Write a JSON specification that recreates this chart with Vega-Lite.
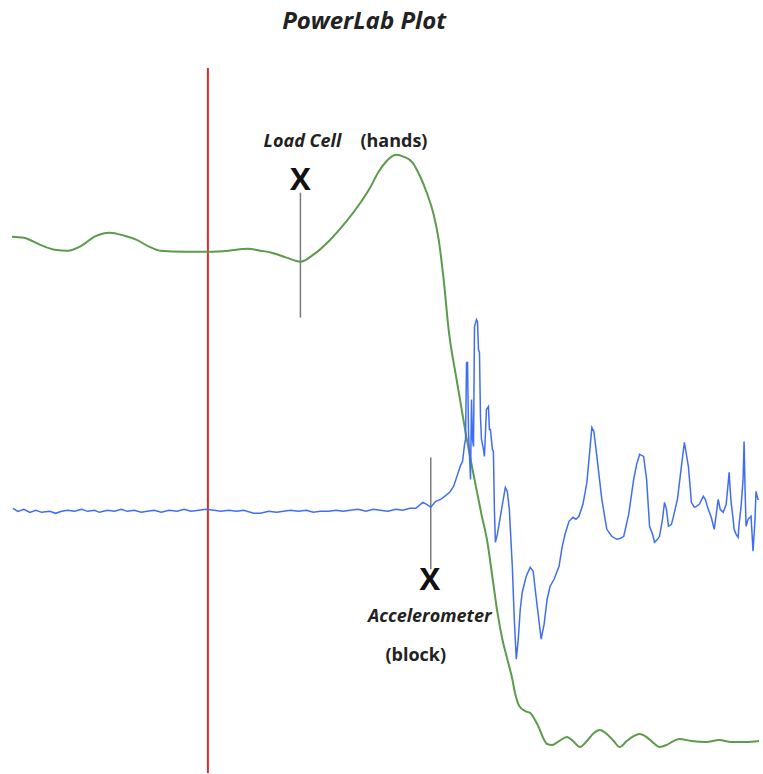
{
  "$schema": "https://vega.github.io/schema/vega-lite/v6.json",
  "width": 763,
  "height": 774,
  "padding": 0,
  "autosize": {"type": "fit", "contains": "padding"},
  "background": "white",
  "config": {"view": {"stroke": null}},
  "datasets": {
    "load": [
      {"t":12,"v":237},{"t":24,"v":238},{"t":40,"v":245},{"t":55,"v":250},{"t":68,"v":251},{"t":82,"v":246},{"t":95,"v":237},{"t":110,"v":233},{"t":125,"v":236},{"t":137,"v":240},{"t":150,"v":247},{"t":161,"v":251},{"t":185,"v":252},{"t":210,"v":252},{"t":230,"v":251},{"t":249,"v":249},{"t":262,"v":251},{"t":273,"v":253},{"t":288,"v":258},{"t":302,"v":262},{"t":315,"v":255},{"t":332,"v":240},{"t":348,"v":222},{"t":363,"v":202},{"t":372,"v":188},{"t":380,"v":173},{"t":388,"v":162},{"t":398,"v":155},{"t":406,"v":157},{"t":415,"v":163},{"t":422,"v":176},{"t":429,"v":193},{"t":436,"v":215},{"t":441,"v":240},{"t":446,"v":280},{"t":451,"v":330},{"t":459,"v":380},{"t":468,"v":433},{"t":477,"v":480},{"t":484,"v":515},{"t":490,"v":543},{"t":495,"v":578},{"t":500,"v":613},{"t":505,"v":640},{"t":510,"v":660},{"t":515,"v":680},{"t":518,"v":695},{"t":522,"v":707},{"t":528,"v":712},{"t":533,"v":714},{"t":540,"v":725},{"t":550,"v":745},{"t":555,"v":746},{"t":562,"v":742},{"t":570,"v":738},{"t":576,"v":742},{"t":583,"v":748},{"t":590,"v":742},{"t":597,"v":734},{"t":603,"v":731},{"t":610,"v":735},{"t":617,"v":742},{"t":623,"v":748},{"t":630,"v":742},{"t":637,"v":737},{"t":643,"v":735},{"t":650,"v":738},{"t":657,"v":744},{"t":663,"v":748},{"t":670,"v":746},{"t":677,"v":742},{"t":683,"v":740},{"t":695,"v":742},{"t":710,"v":743},{"t":723,"v":741},{"t":735,"v":743},{"t":750,"v":743},{"t":763,"v":742}
    ],
    "accel": [
      {"t":13,"v":509},{"t":18,"v":512},{"t":24,"v":510},{"t":30,"v":513},{"t":36,"v":511},{"t":42,"v":513},{"t":50,"v":512},{"t":56,"v":514},{"t":62,"v":512},{"t":68,"v":511},{"t":75,"v":512},{"t":82,"v":510},{"t":88,"v":512},{"t":95,"v":511},{"t":100,"v":513},{"t":108,"v":511},{"t":115,"v":512},{"t":122,"v":510},{"t":128,"v":512},{"t":135,"v":511},{"t":142,"v":513},{"t":148,"v":512},{"t":155,"v":511},{"t":162,"v":513},{"t":170,"v":511},{"t":178,"v":512},{"t":185,"v":510},{"t":192,"v":512},{"t":200,"v":511},{"t":207,"v":510},{"t":215,"v":511},{"t":222,"v":512},{"t":230,"v":511},{"t":238,"v":512},{"t":245,"v":511},{"t":255,"v":514},{"t":262,"v":514},{"t":270,"v":512},{"t":278,"v":513},{"t":285,"v":512},{"t":292,"v":511},{"t":300,"v":512},{"t":308,"v":511},{"t":315,"v":513},{"t":322,"v":512},{"t":330,"v":512},{"t":338,"v":511},{"t":345,"v":512},{"t":352,"v":511},{"t":360,"v":510},{"t":368,"v":512},{"t":375,"v":510},{"t":382,"v":511},{"t":390,"v":512},{"t":398,"v":510},{"t":405,"v":511},{"t":412,"v":509},{"t":418,"v":509},{"t":425,"v":503},{"t":429,"v":505},{"t":433,"v":508},{"t":438,"v":502},{"t":443,"v":500},{"t":447,"v":497},{"t":452,"v":493},{"t":456,"v":487},{"t":460,"v":475},{"t":463,"v":466},{"t":465,"v":462},{"t":467,"v":445},{"t":468,"v":440},{"t":469,"v":363},{"t":470,"v":363},{"t":471,"v":433},{"t":473,"v":480},{"t":474,"v":400},{"t":475,"v":440},{"t":476,"v":447},{"t":477,"v":327},{"t":479,"v":320},{"t":480,"v":322},{"t":481,"v":350},{"t":482,"v":353},{"t":483,"v":417},{"t":484,"v":440},{"t":486,"v":450},{"t":487,"v":457},{"t":489,"v":410},{"t":491,"v":407},{"t":492,"v":430},{"t":493,"v":430},{"t":495,"v":450},{"t":496,"v":452},{"t":497,"v":510},{"t":498,"v":543},{"t":500,"v":535},{"t":503,"v":517},{"t":508,"v":488},{"t":510,"v":492},{"t":512,"v":510},{"t":515,"v":567},{"t":517,"v":620},{"t":519,"v":660},{"t":521,"v":640},{"t":523,"v":610},{"t":525,"v":593},{"t":529,"v":577},{"t":533,"v":568},{"t":536,"v":572},{"t":538,"v":590},{"t":541,"v":615},{"t":544,"v":640},{"t":547,"v":625},{"t":550,"v":600},{"t":553,"v":587},{"t":557,"v":580},{"t":562,"v":567},{"t":565,"v":548},{"t":568,"v":535},{"t":572,"v":522},{"t":576,"v":518},{"t":579,"v":520},{"t":582,"v":517},{"t":586,"v":505},{"t":590,"v":483},{"t":593,"v":450},{"t":595,"v":428},{"t":597,"v":432},{"t":600,"v":457},{"t":605,"v":500},{"t":610,"v":530},{"t":615,"v":537},{"t":620,"v":540},{"t":624,"v":539},{"t":627,"v":537},{"t":632,"v":515},{"t":637,"v":480},{"t":640,"v":465},{"t":643,"v":455},{"t":647,"v":457},{"t":650,"v":480},{"t":653,"v":527},{"t":656,"v":535},{"t":658,"v":543},{"t":661,"v":540},{"t":663,"v":537},{"t":666,"v":520},{"t":668,"v":503},{"t":670,"v":510},{"t":672,"v":527},{"t":675,"v":525},{"t":677,"v":517},{"t":681,"v":500},{"t":685,"v":467},{"t":688,"v":443},{"t":690,"v":455},{"t":692,"v":467},{"t":694,"v":490},{"t":695,"v":503},{"t":698,"v":508},{"t":700,"v":507},{"t":703,"v":505},{"t":707,"v":497},{"t":709,"v":500},{"t":712,"v":510},{"t":715,"v":518},{"t":718,"v":530},{"t":720,"v":515},{"t":722,"v":500},{"t":724,"v":510},{"t":727,"v":513},{"t":730,"v":505},{"t":733,"v":473},{"t":734,"v":490},{"t":735,"v":503},{"t":737,"v":520},{"t":738,"v":530},{"t":740,"v":535},{"t":742,"v":538},{"t":743,"v":525},{"t":745,"v":507},{"t":747,"v":480},{"t":748,"v":442},{"t":749,"v":490},{"t":750,"v":527},{"t":752,"v":520},{"t":755,"v":517},{"t":757,"v":552},{"t":759,"v":520},{"t":760,"v":492},{"t":762,"v":500},{"t":763,"v":500}
    ],
    "markers": [
      {"t":302,"v1":193,"v2":318},
      {"t":433,"v1":458,"v2":570}
    ],
    "trigger": [
      {"t":209,"v1":68,"v2":774}
    ]
  },
  "layer": [
    {
      "data": {"name": "trigger"},
      "mark": {"type": "rule", "color": "#e02a2a", "strokeWidth": 2},
      "encoding": {
        "x": {"field": "t", "type": "quantitative", "scale": {"domain": [0, 763], "nice": false, "zero": false}, "axis": null},
        "y": {"field": "v1", "type": "quantitative", "scale": {"domain": [0, 774], "nice": false, "zero": false, "reverse": true}, "axis": null},
        "y2": {"field": "v2"}
      }
    },
    {
      "data": {"name": "markers"},
      "mark": {"type": "rule", "color": "#7a7a7a", "strokeWidth": 1.5},
      "encoding": {
        "x": {"field": "t", "type": "quantitative"},
        "y": {"field": "v1", "type": "quantitative"},
        "y2": {"field": "v2"}
      }
    },
    {
      "data": {"name": "load"},
      "mark": {"type": "line", "color": "#5c9a4c", "strokeWidth": 2, "interpolate": "monotone"},
      "encoding": {
        "x": {"field": "t", "type": "quantitative"},
        "y": {"field": "v", "type": "quantitative"}
      }
    },
    {
      "data": {"name": "accel"},
      "mark": {"type": "line", "color": "#3f6ef2", "strokeWidth": 1.5},
      "encoding": {
        "x": {"field": "t", "type": "quantitative"},
        "y": {"field": "v", "type": "quantitative"}
      }
    },
    {
      "data": {"values": [{"label": "PowerLab Plot", "t": 366, "v": 22}]},
      "mark": {"type": "text", "font": "Open Sans", "fontSize": 24, "fontWeight": "bold", "fontStyle": "italic", "color": "#222222", "align": "center", "baseline": "middle"},
      "encoding": {
        "x": {"field": "t", "type": "quantitative"},
        "y": {"field": "v", "type": "quantitative"},
        "text": {"field": "label"}
      }
    },
    {
      "data": {"values": [{"label": "Load Cell", "t": 304, "v": 142}, {"label": "Accelerometer", "t": 432, "v": 618}]},
      "mark": {"type": "text", "font": "Open Sans", "fontSize": 18, "fontWeight": "bold", "fontStyle": "italic", "color": "#222222", "align": "center", "baseline": "middle"},
      "encoding": {
        "x": {"field": "t", "type": "quantitative"},
        "y": {"field": "v", "type": "quantitative"},
        "text": {"field": "label"}
      }
    },
    {
      "data": {"values": [{"label": "(hands)", "t": 396, "v": 142}, {"label": "(block)", "t": 418, "v": 657}]},
      "mark": {"type": "text", "font": "Open Sans", "fontSize": 18, "fontWeight": "bold", "color": "#222222", "align": "center", "baseline": "middle"},
      "encoding": {
        "x": {"field": "t", "type": "quantitative"},
        "y": {"field": "v", "type": "quantitative"},
        "text": {"field": "label"}
      }
    },
    {
      "data": {"values": [{"label": "X", "t": 302, "v": 181}, {"label": "X", "t": 432, "v": 582}]},
      "mark": {"type": "text", "font": "Open Sans", "fontSize": 31, "fontWeight": "bold", "color": "#111111", "align": "center", "baseline": "middle"},
      "encoding": {
        "x": {"field": "t", "type": "quantitative"},
        "y": {"field": "v", "type": "quantitative"},
        "text": {"field": "label"}
      }
    }
  ]
}
